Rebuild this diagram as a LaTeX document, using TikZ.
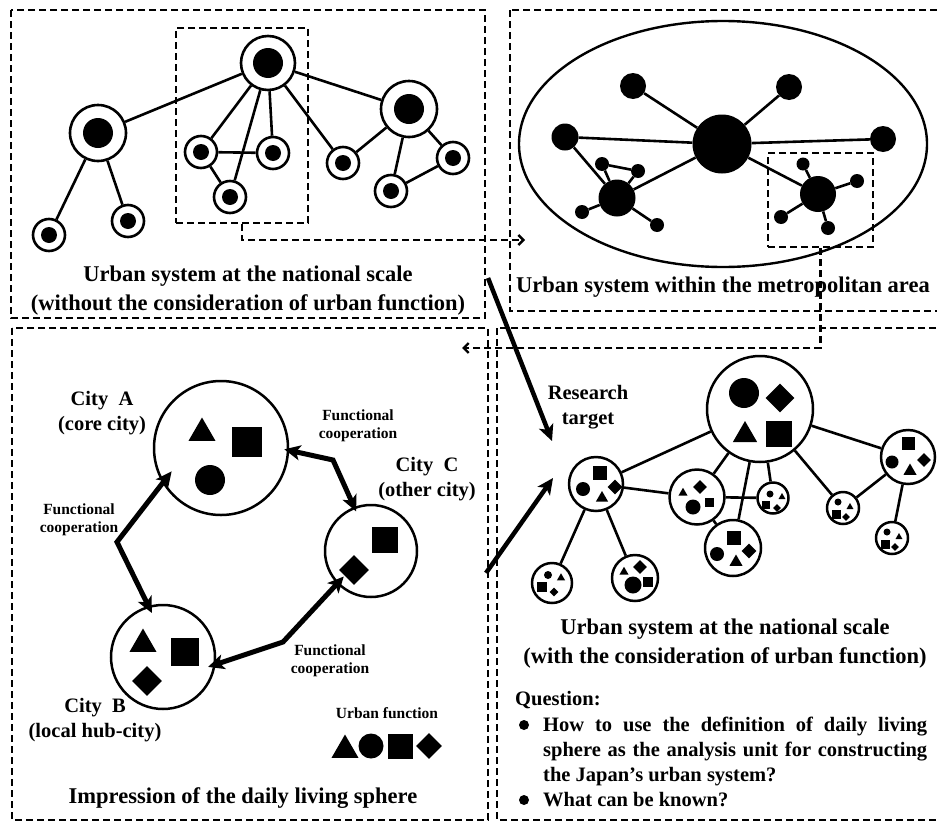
\documentclass[tikz,border=0pt]{standalone}
\usepackage{fontspec}
\setmainfont{Liberation Serif}
\usetikzlibrary{shapes.geometric,arrows.meta}
\newcommand\myTitle{\fontsize{22.5}{29}\selectfont\bfseries}
\newcommand\myLab{\fontsize{20.5}{25.5}\selectfont\bfseries}
\newcommand\mySmall{\fontsize{15.5}{18}\selectfont\bfseries}
\tikzset{
  lnk/.style={line width=2.6pt},
  ring/.style 2 args={circle, draw, line width=2.6pt, fill=white, inner sep=0pt, minimum size=#1,
    path picture={\fill[black] (path picture bounding box.center) circle[radius=#2];}},
  hollow/.style={circle, draw, line width=2.5pt, fill=white, inner sep=0pt, minimum size=#1},
  dotn/.style={circle, fill=black, inner sep=0pt, minimum size=#1},
  tri/.style={regular polygon, regular polygon sides=3, fill=black, inner sep=0pt, minimum size=#1},
  sq/.style={rectangle, fill=black, inner sep=0pt, minimum size=#1},
  dia/.style={diamond, fill=black, inner sep=0pt, minimum size=#1},
  panel/.style={line width=2.4pt, dash pattern=on 7pt off 4pt},
  dashbox/.style={draw, line width=2.4pt, dash pattern=on 7pt off 4pt, inner sep=0pt},
  dconn/.style={line width=2.4pt, dash pattern=on 7pt off 4pt, -{Straight Barb[length=5pt,width=10pt]}},
  farrow/.style={line width=5pt, {Stealth[length=16pt,width=15pt,inset=4pt]}-{Stealth[length=16pt,width=15pt,inset=4pt]}},
  tarrow/.style={line width=4.5pt, -{Stealth[length=16pt,width=15pt,inset=4pt]}},
}
\begin{document}
\begin{tikzpicture}[x=1pt,y=-1pt]
\useasboundingbox (0,0) rectangle (937,822);
\fill[white] (0,0) rectangle (937,822);
% panels
\draw[panel] (11,10) rectangle (485,318);
\draw[panel] (510,10) rectangle (945,311);
\draw[panel] (12,328) rectangle (488,820);
\draw[panel] (497,328) rectangle (945,820);

% ---------- top-left: national scale without function ----------
\node[ring={54pt}{15pt}] (t0) at (268,63) {};
\node[ring={56pt}{15pt}] (tL) at (98,133) {};
\node[ring={56pt}{15pt}] (tR) at (409,109) {};
\node[ring={32pt}{8pt}] (s1) at (201,152) {};
\node[ring={32pt}{8pt}] (s2) at (273,153) {};
\node[ring={32pt}{8pt}] (s3) at (230,197) {};
\node[ring={32pt}{8pt}] (s4) at (343,163) {};
\node[ring={32pt}{8pt}] (s5) at (453,158) {};
\node[ring={32pt}{8pt}] (s6) at (391,191) {};
\node[ring={32pt}{8pt}] (s7) at (49,235) {};
\node[ring={32pt}{8pt}] (s8) at (128,221) {};
\foreach \a/\b in {t0/tL,t0/s1,t0/s2,t0/s3,t0/s4,t0/tR,s1/s2,s1/s3,tL/s7,tL/s8,tR/s4,tR/s6,tR/s5,s6/s5}
  \draw[lnk] (\a) -- (\b);
\node[dashbox, minimum width=132pt, minimum height=195pt] (box1) at (242,125.5) {};
\node[font=\myTitle, align=center] (tlt) at (248,290.5) {Urban system at the national scale\\(without the consideration of urban function)};

% ---------- top-right: metropolitan area ----------
\node[ellipse, draw, line width=2.4pt, inner sep=0pt, minimum width=408pt, minimum height=246pt] (metro) at (723,144) {};
\node[dotn=59pt] (m0) at (722,144) {};
\node[dotn=26pt] (m1) at (633,86) {};
\node[dotn=26pt] (m2) at (789,87) {};
\node[dotn=27pt] (m3) at (565,137) {};
\node[dotn=26pt] (m4) at (883,139) {};
\node[dotn=37pt] (m5) at (617,198) {};
\node[dotn=36pt] (m6) at (818,194) {};
\node[dotn=14pt] (m5a) at (602,164) {};
\node[dotn=14pt] (m5b) at (638,171) {};
\node[dotn=14pt] (m5c) at (582,212) {};
\node[dotn=14pt] (m5d) at (657,225) {};
\node[dotn=13pt] (m6a) at (803,164) {};
\node[dotn=14pt] (m6b) at (857,181) {};
\node[dotn=14pt] (m6c) at (781,217) {};
\node[dotn=14pt] (m6d) at (828,228) {};
\foreach \a/\b in {m0/m1,m0/m2,m0/m3,m0/m4,m0/m5,m0/m6,m3/m5,m5/m5a,m5/m5b,m5a/m5b,m5/m5c,m5/m5d,m6/m6a,m6/m6b,m6/m6c,m6/m6d}
  \draw[lnk] (\a) -- (\b);
\node[dashbox, minimum width=105pt, minimum height=94pt] (box2) at (820.5,200) {};
\node[font=\myTitle] (trt) at (723,287) {Urban system within the metropolitan area};

% dashed connectors
\coordinate (tgt1) at (525,240);
\coordinate (tgt2) at (462,348);
\draw[dconn] (box1.south) |- (tgt1);
\draw[dconn] (box2.south) |- (tgt2);

% ---------- bottom-left: daily living sphere ----------
\node[hollow=134pt] (cA) at (221,448) {};
\node[tri=31pt] (aT) at (202,433) {};
\node[sq=30pt] (aS) at (247,442) {};
\node[dotn=30pt] (aC) at (210,480) {};
\node[hollow=92pt] (cC) at (371,551) {};
\node[sq=26pt] (cS) at (385,540) {};
\node[dia=30pt] (cD) at (354,570) {};
\node[hollow=104pt] (cB) at (163,657) {};
\node[tri=31pt] (bT) at (143,644) {};
\node[sq=28pt] (bS) at (185,652) {};
\node[dia=30pt] (bD) at (147,681) {};

\draw[farrow, shorten <=-5pt, shorten >=-5pt] (cA.-2) -- (333,460) -- (cC.111);
\draw[farrow, shorten <=-15pt, shorten >=-8pt] (cA.211) -- (117,542) -- (cB.106);
\draw[farrow, shorten <=-8pt, shorten >=-10pt] (cB.-8) -- (283,642) -- (cC.224);

\node[font=\mySmall, align=center] (fc1) at (358,426) {Functional\\cooperation};
\node[font=\mySmall, align=center] (fc2) at (79,520) {Functional\\cooperation};
\node[font=\mySmall, align=center] (fc3) at (330,661) {Functional\\cooperation};

\node[font=\myLab, align=center] (labA) at (102,413) {City\ \ A\\(core city)};
\node[font=\myLab, align=center] (labC) at (427,479) {City\ \ C\\(other city)};
\node[font=\myLab, align=center] (labB) at (95,720) {City\ \ B\\(local hub-city)};

\node[font=\mySmall] (uf) at (387,713) {Urban function};
\node[tri=31pt] (lT) at (345,750) {};
\node[dotn=25pt] (lC) at (371,746) {};
\node[sq=25pt] (lS) at (400,746) {};
\node[dia=26pt] (lD) at (429,746) {};

\node[font=\myTitle] (blt) at (243,798) {Impression of the daily living sphere};

% ---------- bottom-right: national scale with function ----------
\node[hollow=106pt] (R0) at (760,409) {};
\node[dotn=30pt] (R0c) at (744,393) {};
\node[dia=29pt] (R0d) at (780,398) {};
\node[tri=28pt] (R0t) at (745,435) {};
\node[sq=26pt] (R0s) at (779,434) {};

\node[hollow=54pt] (N1) at (596,484) {};
\node[sq=14pt] (N1s) at (600,473) {};
\node[dotn=14pt] (N1c) at (583,489) {};
\node[tri=14pt] (N1t) at (602,498) {};
\node[dia=15pt] (N1d) at (615,487) {};

\node[hollow=55pt] (N2) at (697,497) {};
\node[tri=10.5pt] (N2t) at (683,493) {};
\node[dia=14pt] (N2d) at (700,487) {};
\node[dotn=15pt] (N2c) at (693,507) {};
\node[sq=9pt] (N2s) at (709,502) {};

\node[hollow=56pt] (N3) at (733,548) {};
\node[sq=14pt] (N3s) at (734,538) {};
\node[dotn=14pt] (N3c) at (717,554) {};
\node[tri=15pt] (N3t) at (736,562) {};
\node[dia=15pt] (N3d) at (749,551) {};

\node[hollow=31pt] (N4) at (773,498) {};
\node[dotn=7pt] (N4c) at (770,494) {};
\node[tri=8pt] (N4t) at (782,497) {};
\node[sq=8pt] (N4s) at (766,505) {};
\node[dia=8pt] (N4d) at (777,508) {};

\node[hollow=54pt] (N5) at (908,457) {};
\node[sq=13pt] (N5s) at (908,443) {};
\node[dotn=13pt] (N5c) at (892,462) {};
\node[tri=15pt] (N5t) at (910,471) {};
\node[dia=14pt] (N5d) at (924,460) {};

\node[hollow=32pt] (N6) at (843,508) {};
\node[dotn=7pt] (N6c) at (838,502) {};
\node[tri=8pt] (N6t) at (850,507) {};
\node[sq=9pt] (N6s) at (836,514) {};
\node[dia=8pt] (N6d) at (846,517) {};

\node[hollow=32pt] (N7) at (892,538) {};
\node[dotn=7pt] (N7c) at (887,532) {};
\node[tri=8pt] (N7t) at (899,537) {};
\node[sq=9pt] (N7s) at (885,544) {};
\node[dia=8pt] (N7d) at (895,547) {};

\node[hollow=40pt] (N8) at (552,583) {};
\node[dotn=8pt] (N8c) at (548,575) {};
\node[tri=9.5pt] (N8t) at (561,578) {};
\node[sq=10pt] (N8s) at (542,587) {};
\node[dia=9pt] (N8d) at (554,592) {};

\node[hollow=46pt] (N9) at (635,578) {};
\node[tri=10.5pt] (N9t) at (624,572) {};
\node[dia=14pt] (N9d) at (640,567) {};
\node[dotn=17pt] (N9c) at (633,585) {};
\node[sq=10pt] (N9s) at (648,582) {};

\foreach \a/\b in {R0/N1,R0/N2,R0/N3,R0/N4,R0/N5,R0/N6,N1/N2,N2/N4,N2/N3,N1/N8,N1/N9,N5/N6,N5/N7}
  \draw[lnk] (\a) -- (\b);

% research target arrows
\coordinate (rt0) at (488,278);
\coordinate (rt1) at (552,441);
\coordinate (rt2) at (486,573);
\coordinate (rt3) at (553,478);
\draw[tarrow] (rt0) -- (rt1);
\draw[tarrow] (rt2) -- (rt3);
\node[font=\myLab, align=center] (rtl) at (588,407) {Research\\target};

\node[font=\myTitle, align=center] (brt) at (725,644) {Urban system at the national scale\\(with the consideration of urban function)};

% question
\node[font=\myLab, anchor=west, inner sep=0pt] (q) at (515,700) {Question:};
\node[dotn=10pt] (b1) at (524,725) {};
\node[dotn=10pt] (b2) at (524,800) {};
\node[font=\fontsize{20.5}{25}\selectfont\bfseries, anchor=north west, inner sep=0pt, text width=384pt, align=justify] (q1) at (543,717)
  {How to use the definition of daily living\linebreak sphere as the analysis unit for constructing\linebreak the Japan’s urban system?};
\node[font=\myLab, anchor=west, inner sep=0pt] (q2) at (543,800) {What can be known?};
\end{tikzpicture}
\end{document}
